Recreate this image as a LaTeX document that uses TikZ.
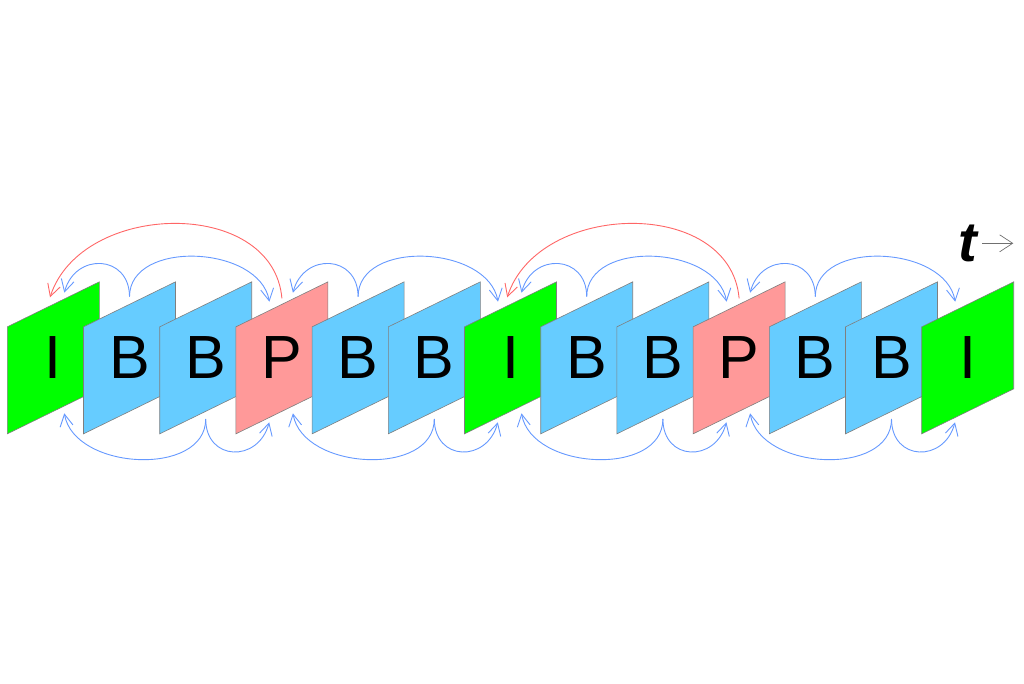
\documentclass[tikz,border=0pt]{standalone}
\usepackage{fontspec}
\setmainfont{Liberation Sans}
\usetikzlibrary{arrows.meta,calc}
\definecolor{igreen}{HTML}{00FF00}
\definecolor{bblue}{HTML}{66CCFF}
\definecolor{ppink}{HTML}{FF9999}
\definecolor{arcblue}{HTML}{6699FF}
\definecolor{arcred}{HTML}{FF6666}
\definecolor{edgegray}{HTML}{7F7F7F}
\definecolor{tgray}{HTML}{707070}
\begin{document}
\begin{tikzpicture}[x=1pt,y=1pt,
  framebox/.style={draw=edgegray,line width=0.6pt,line join=miter},
  lettr/.style={font=\fontsize{61}{61}\selectfont,inner sep=0pt,text=black},
  bluearc/.style={draw=arcblue,line width=0.9pt,-{Straight Barb[length=12pt,width=13pt]}},
  redarc/.style={draw=arcred,line width=0.9pt,-{Straight Barb[length=12pt,width=13pt]}}]
\useasboundingbox (0,0) rectangle (1024,683);
\foreach \k/\l/\c in {0/I/igreen,1/B/bblue,2/B/bblue,3/P/ppink,4/B/bblue,5/B/bblue,6/I/igreen,7/B/bblue,8/B/bblue,9/P/ppink,10/B/bblue,11/B/bblue,12/I/igreen}{
  \pgfmathsetmacro\cx{53.3+76.2*\k}
  \coordinate (c\k) at (\cx,325.15);
  \fill[\c,framebox] ($(c\k)+(-46,31)$) -- ($(c\k)+(46,76)$) -- ($(c\k)+(46,-31)$) -- ($(c\k)+(-46,-76)$) -- cycle;
  \node[lettr] (f\k) at (c\k) {\l};
  \coordinate (ts\k) at ($(c\k)+(0,61.15)$);
  \coordinate (tl\k) at ($(c\k)+(11,65.15)$);
  \coordinate (tr\k) at ($(c\k)+(-12.5,56.15)$);
  \coordinate (ps\k) at ($(c\k)+(0,59.55)$);
  \coordinate (rt\k) at ($(c\k)+(-3.3,60.55)$);
  \coordinate (bs\k) at ($(c\k)+(0,-61.15)$);
  \coordinate (bl\k) at ($(c\k)+(11,-55.45)$);
  \coordinate (br\k) at ($(c\k)+(-12.7,-64.45)$);
}
% top arcs from B frames
\foreach \k/\a/\b in {1/0/3,4/3/6,7/6/9,10/9/12}{
  \draw[bluearc] (ts\k) to[out=90,in=75,looseness=1.65] (tl\a);
  \draw[bluearc] (ts\k) to[out=90,in=100,looseness=1.05] (tr\b);
}
% bottom arcs from B frames
\foreach \k/\a/\b in {2/0/3,5/3/6,8/6/9,11/9/12}{
  \draw[bluearc] (bs\k) to[out=-90,in=-80,looseness=1.05] (bl\a);
  \draw[bluearc] (bs\k) to[out=-90,in=-105,looseness=1.7] (br\b);
}
% red arcs from P frames
\foreach \k/\a in {3/0,9/6}{
  \draw[redarc] (ps\k) to[out=95,in=72,looseness=1.12] (rt\a);
}
% time label
\node[anchor=base west,inner sep=0pt,font=\bfseries\itshape\fontsize{56}{56}\selectfont] (tlabel) at (958,421) {t};
\coordinate (ta) at (982,439.7);
\coordinate (tb) at (1013.3,439.7);
\draw[tgray,line width=0.7pt,-{Straight Barb[length=13pt,width=17pt]}] (ta) -- (tb);
\end{tikzpicture}
\end{document}
